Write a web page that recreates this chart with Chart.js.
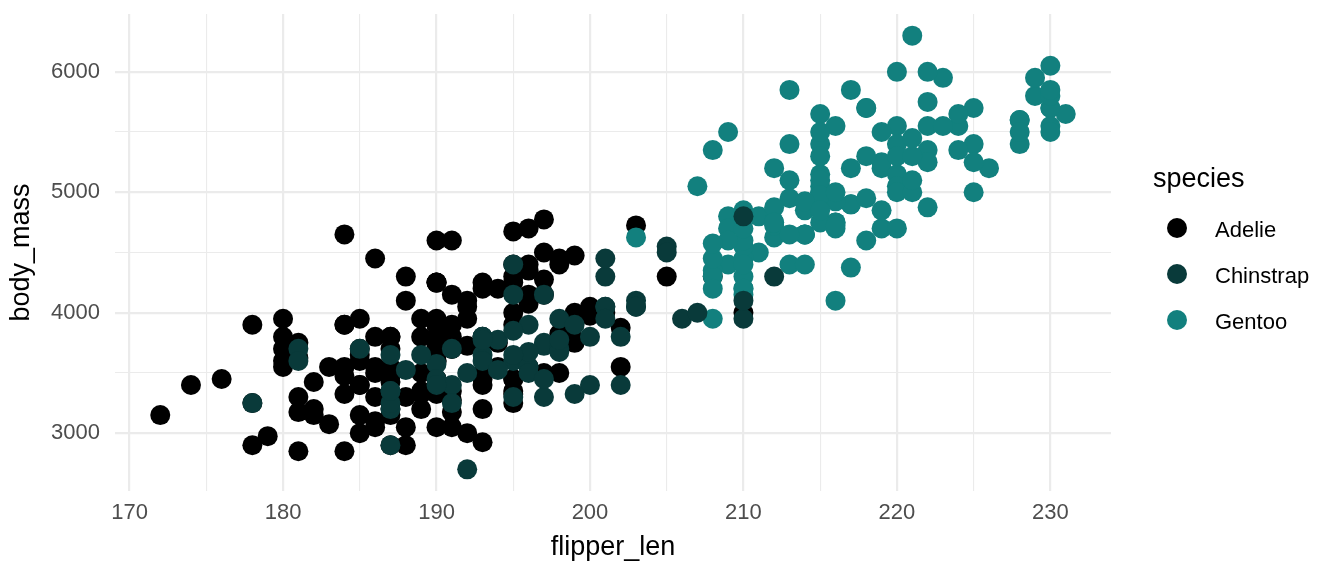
<!DOCTYPE html>
<html>
<head>
<meta charset="utf-8">
<script src="https://cdn.jsdelivr.net/npm/chart.js@4.4.1/dist/chart.umd.min.js"></script>
<style>
  html, body { margin: 0; padding: 0; background: #ffffff; }
  canvas { display: block; }
</style>
</head>
<body>
<canvas id="chart" width="1344" height="576"></canvas>
<script>
// flipper_len (mm), body_mass (g) per penguin
const adelie = [
  [181,3750],[186,3800],[195,3250],[193,3450],[190,3650],[181,3625],[195,4675],[193,3475],[190,4250],[186,3300],
  [180,3700],[182,3200],[191,3800],[198,4400],[185,3700],[195,3450],[197,4500],[184,3325],[194,4200],[174,3400],
  [180,3600],[189,3800],[185,3950],[180,3800],[187,3800],[183,3550],[187,3200],[172,3150],[180,3950],[178,3250],
  [178,3900],[188,3300],[184,3900],[195,3325],[196,4150],[190,3950],[180,3550],[181,3300],[184,4650],[182,3150],
  [195,3900],[186,3100],[196,4400],[185,3000],[190,4600],[182,3425],[179,2975],[190,3450],[191,4150],[186,3500],
  [188,4300],[190,3450],[200,4050],[187,2900],[191,3700],[186,3550],[193,3800],[181,2850],[194,3750],[185,3150],
  [195,4400],[185,3600],[192,4050],[184,2850],[192,3950],[195,3350],[188,4100],[190,3050],[198,4450],[190,3600],
  [190,3900],[196,3550],[197,4150],[190,3700],[195,4250],[191,3700],[184,3900],[187,3550],[195,4000],[189,3200],
  [196,4700],[187,3800],[193,4200],[191,3350],[194,3550],[190,3800],[189,3500],[189,3950],[190,3600],[202,3550],
  [205,4300],[185,3400],[186,4450],[187,3300],[208,4300],[190,3700],[196,4350],[178,2900],[192,4100],[192,3725],
  [203,4725],[183,3075],[190,4250],[193,2925],[184,3550],[199,3750],[190,3900],[181,3175],[197,4775],[198,3825],
  [191,4600],[193,3200],[197,4275],[191,3900],[196,4075],[188,2900],[199,3775],[189,3350],[189,3325],[187,3150],
  [198,3500],[176,3450],[202,3875],[186,3050],[199,4000],[191,3275],[195,4300],[191,3050],[210,4000],[190,3325],
  [197,3500],[193,3500],[199,4475],[187,3425],[190,3900],[191,3175],[200,3975],[185,3400],[193,4250],[193,3400],
  [187,3475],[188,3050],[190,3725],[192,3000],[185,3650],[190,4250],[184,3475],[195,3450],[193,3750],[187,3700],
  [201,4000]
];

const gentoo = [
  [211,4500],[230,5700],[210,4450],[218,5700],[215,5400],[210,4550],[211,4800],[219,5200],[209,4400],[215,5150],
  [214,4650],[216,5550],[214,4650],[213,5850],[210,4200],[217,5850],[210,4150],[221,6300],[209,4800],[222,5350],
  [218,5700],[215,5000],[213,4400],[215,5050],[215,5000],[215,5100],[216,4100],[215,5650],[210,4600],[220,5550],
  [222,5250],[209,4700],[207,5050],[230,6050],[220,5150],[220,5400],[213,4950],[219,5250],[208,4350],[208,5350],
  [208,3950],[225,5700],[210,4300],[216,4750],[222,5550],[217,4900],[210,4200],[225,5400],[213,5100],[215,5300],
  [210,4850],[220,5300],[210,4400],[225,5000],[217,4900],[220,5050],[208,4300],[220,5000],[208,4450],[224,5550],
  [208,4200],[221,5300],[214,4400],[231,5650],[219,4700],[230,5700],[214,4650],[229,5800],[220,4700],[223,5550],
  [216,4750],[221,5000],[221,5100],[217,5200],[216,4700],[230,5800],[209,4600],[220,6000],[215,4750],[223,5950],
  [212,4625],[221,5450],[212,4725],[224,5350],[212,4750],[228,5600],[218,4600],[218,5300],[212,4875],[230,5550],
  [218,4950],[228,5400],[212,4750],[224,5650],[214,4850],[226,5200],[216,4925],[222,4875],[203,4625],[225,5250],
  [219,4850],[228,5600],[215,4975],[228,5500],[216,4725],[215,5500],[210,4700],[219,5500],[208,4575],[209,5500],
  [216,5000],[229,5950],[213,4650],[230,5500],[217,4375],[230,5850],[222,6000],[214,4925],[215,4850],[222,5750],
  [212,5200],[213,5400]
];

const chinstrap = [
  [192,3500],[196,3900],[193,3650],[188,3525],[197,3725],[198,3950],[178,3250],[197,3750],[195,4150],[198,3700],
  [193,3800],[194,3775],[185,3700],[201,4050],[190,3575],[201,4050],[197,3300],[181,3700],[190,3450],[195,4400],
  [181,3600],[191,3400],[187,2900],[193,3800],[195,3300],[197,4150],[200,3400],[200,3800],[191,3700],[205,4550],
  [187,3200],[201,4300],[187,3350],[203,4100],[195,3600],[199,3900],[195,3850],[210,4800],[192,2700],[205,4500],
  [210,3950],[187,3650],[196,3550],[196,3500],[196,3675],[201,4450],[190,3400],[212,4300],[187,3250],[198,3675],
  [199,3325],[201,3950],[193,3600],[203,4050],[187,3350],[197,3450],[191,3250],[203,4050],[202,3800],[194,3525],
  [206,3950],[189,3650],[195,3650],[207,4000],[202,3400],[193,3775],[210,4100],[198,3775]
];

const speciesNames = ['Adelie', 'Chinstrap', 'Gentoo'];
const speciesColors = ['#000000', '#093a3a', '#12807e'];

const xTicks = [170, 175, 180, 185, 190, 195, 200, 205, 210, 215, 220, 225, 230];
const yTicks = [3000, 3500, 4000, 4500, 5000, 5500, 6000];

const FONT = '"Liberation Sans", Arial, Helvetica, sans-serif';

function toPoints(rows) {
  return rows.map(r => ({ x: r[0], y: r[1] }));
}

// ggplot-style titles and legend, drawn after the plot
const decorations = {
  id: 'decorations',
  afterDraw(chart) {
    const ctx = chart.ctx;
    const area = chart.chartArea;
    ctx.save();
    ctx.fillStyle = '#000000';
    ctx.font = '27px ' + FONT;
    ctx.textAlign = 'center';
    ctx.textBaseline = 'alphabetic';
    ctx.fillText('flipper_len', (area.left + area.right) / 2, 555);

    ctx.save();
    ctx.translate(29, (area.top + area.bottom) / 2);
    ctx.rotate(-Math.PI / 2);
    ctx.fillText('body_mass', 0, 0);
    ctx.restore();

    ctx.textAlign = 'left';
    ctx.fillText('species', 1153, 187);

    ctx.font = '22px ' + FONT;
    const keyY = [228, 274, 320];
    speciesNames.forEach((name, i) => {
      ctx.fillStyle = speciesColors[i];
      ctx.beginPath();
      ctx.arc(1177, keyY[i], 10, 0, Math.PI * 2);
      ctx.fill();
      ctx.fillStyle = '#000000';
      ctx.fillText(name, 1215, keyY[i] + 9);
    });
    ctx.restore();
  }
};

const gridWidth = (major) => (c) => (c.tick && c.tick.value % major === 0 ? 2.2 : 1.1);

new Chart(document.getElementById('chart'), {
  type: 'scatter',
  data: {
    datasets: [
      { label: 'Adelie', data: toPoints(adelie), backgroundColor: speciesColors[0], order: 3 },
      { label: 'Gentoo', data: toPoints(gentoo), backgroundColor: speciesColors[2], order: 2 },
      { label: 'Chinstrap', data: toPoints(chinstrap), backgroundColor: speciesColors[1], order: 1 }
    ]
  },
  options: {
    responsive: false,
    animation: false,
    devicePixelRatio: 1,
    layout: { padding: { top: 14, right: 233, left: 0, bottom: 0 } },
    elements: { point: { radius: 10, borderWidth: 0, hoverRadius: 10 } },
    plugins: { legend: { display: false }, tooltip: { enabled: false } },
    scales: {
      x: {
        type: 'linear',
        min: 169.05,
        max: 233.95,
        afterBuildTicks: (s) => { s.ticks = xTicks.map(v => ({ value: v })); },
        afterFit: (s) => { s.height = 85; s.paddingLeft = 0; s.paddingRight = 0; },
        border: { display: false },
        grid: { color: '#ebebeb', lineWidth: gridWidth(10), drawTicks: false },
        ticks: {
          autoSkip: false,
          maxRotation: 0,
          padding: 9,
          color: '#4d4d4d',
          font: { family: FONT, size: 22 },
          callback: (v) => (v % 10 === 0 ? String(v) : '')
        }
      },
      y: {
        type: 'linear',
        min: 2520,
        max: 6480,
        afterBuildTicks: (s) => { s.ticks = yTicks.map(v => ({ value: v })); },
        afterFit: (s) => { s.width = 115; s.paddingTop = 0; s.paddingBottom = 0; },
        border: { display: false },
        grid: { color: '#ebebeb', lineWidth: gridWidth(1000), drawTicks: false },
        ticks: {
          autoSkip: false,
          padding: 15,
          color: '#4d4d4d',
          font: { family: FONT, size: 22 },
          callback: (v) => (v % 1000 === 0 ? String(v) : '')
        }
      }
    }
  },
  plugins: [decorations]
});
</script>
</body>
</html>
